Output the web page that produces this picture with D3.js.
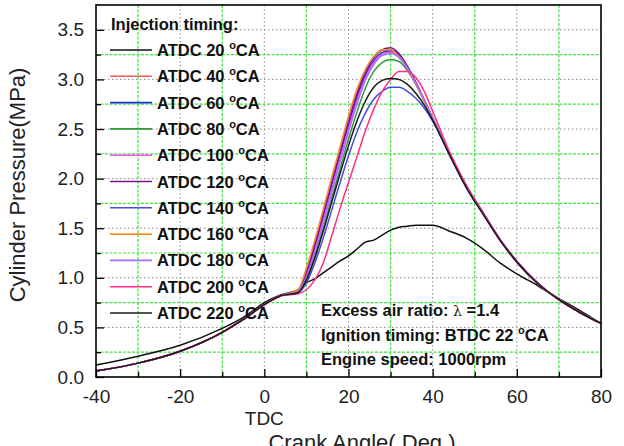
<!DOCTYPE html>
<html lang="en">
<head>
  <meta charset="UTF-8">
  <title>Cylinder pressure vs crank angle</title>
  <style>
    body { margin: 0; background: #fff; }
    svg { font-family: "Liberation Sans", Arial, sans-serif; }
    .tick-label { font-size: 19px; fill: #222; }
    .axis-title { font-size: 22px; fill: #222; }
    .note { font-size: 16.5px; font-weight: bold; fill: #111; }
  </style>
</head>
<body>
  <div id="chart"></div>
  <script src="https://d3js.org/d3.v7.min.js"></script>
  <script>
    const width = 624, height = 446;

    // crank angle (deg) shared by every series
    const angles = [-40, -30, -20, -10, -5, 0, 4, 8, 10, 12, 14, 16, 18, 20, 22, 24, 26, 28, 30,
                    32, 34, 36, 38, 40, 44, 48, 52, 56, 60, 65, 70, 75, 80];

    // cylinder pressure (MPa), one array per injection timing
    const p20  = [0.12, 0.21, 0.32, 0.49, 0.60, 0.75, 0.83, 0.88, 0.95, 0.99, 1.05, 1.11, 1.17, 1.22, 1.29, 1.36, 1.38, 1.43, 1.48,
                  1.51, 1.52, 1.53, 1.53, 1.53, 1.47, 1.40, 1.29, 1.15, 1.04, 0.92, 0.79, 0.67, 0.54];
    const p40  = [0.06, 0.14, 0.26, 0.45, 0.58, 0.73, 0.82, 0.87, 1.07, 1.36, 1.67, 1.99, 2.30, 2.60, 2.87, 3.08, 3.22, 3.29, 3.30,
                  3.24, 3.12, 2.96, 2.79, 2.61, 2.25, 1.92, 1.65, 1.38, 1.16, 0.94, 0.78, 0.65, 0.54];
    const p60  = [0.06, 0.14, 0.26, 0.45, 0.58, 0.73, 0.82, 0.86, 1.03, 1.31, 1.61, 1.93, 2.24, 2.54, 2.82, 3.04, 3.19, 3.27, 3.29,
                  3.25, 3.13, 2.97, 2.79, 2.61, 2.25, 1.92, 1.65, 1.38, 1.16, 0.94, 0.78, 0.65, 0.54];
    const p80  = [0.06, 0.14, 0.26, 0.45, 0.58, 0.73, 0.82, 0.85, 0.99, 1.22, 1.50, 1.80, 2.10, 2.40, 2.67, 2.91, 3.08, 3.17, 3.20,
                  3.18, 3.09, 2.95, 2.78, 2.61, 2.25, 1.92, 1.65, 1.38, 1.16, 0.94, 0.78, 0.65, 0.54];
    const p100 = [0.06, 0.14, 0.26, 0.45, 0.58, 0.73, 0.82, 0.86, 1.02, 1.28, 1.58, 1.89, 2.20, 2.50, 2.78, 3.01, 3.17, 3.25, 3.27,
                  3.23, 3.12, 2.97, 2.79, 2.61, 2.25, 1.92, 1.65, 1.38, 1.16, 0.94, 0.78, 0.65, 0.54];
    const p120 = [0.06, 0.14, 0.26, 0.45, 0.58, 0.73, 0.82, 0.87, 1.05, 1.33, 1.64, 1.96, 2.27, 2.57, 2.85, 3.07, 3.22, 3.30, 3.32,
                  3.26, 3.13, 2.97, 2.79, 2.61, 2.26, 1.93, 1.66, 1.39, 1.17, 0.95, 0.78, 0.65, 0.54];
    const p140 = [0.06, 0.14, 0.26, 0.45, 0.58, 0.73, 0.82, 0.85, 0.95, 1.15, 1.40, 1.68, 1.96, 2.23, 2.47, 2.66, 2.80, 2.88, 2.92,
                  2.92, 2.88, 2.81, 2.71, 2.58, 2.24, 1.91, 1.64, 1.38, 1.16, 0.94, 0.78, 0.65, 0.54];
    const p160 = [0.06, 0.14, 0.26, 0.45, 0.58, 0.73, 0.82, 0.88, 1.10, 1.38, 1.69, 2.01, 2.32, 2.63, 2.90, 3.10, 3.23, 3.30, 3.30,
                  3.23, 3.11, 2.95, 2.78, 2.61, 2.25, 1.92, 1.65, 1.38, 1.16, 0.94, 0.78, 0.65, 0.54];
    const p180 = [0.06, 0.14, 0.26, 0.45, 0.58, 0.73, 0.82, 0.86, 1.01, 1.26, 1.55, 1.86, 2.17, 2.47, 2.75, 2.99, 3.15, 3.24, 3.26,
                  3.22, 3.11, 2.96, 2.79, 2.61, 2.25, 1.92, 1.65, 1.38, 1.16, 0.94, 0.78, 0.65, 0.54];
    const p200 = [0.06, 0.14, 0.26, 0.45, 0.58, 0.73, 0.82, 0.84, 0.88, 0.98, 1.15, 1.42, 1.70, 1.96, 2.22, 2.48, 2.70, 2.88, 3.00,
                  3.08, 3.08, 3.02, 2.88, 2.68, 2.27, 1.93, 1.65, 1.38, 1.16, 0.94, 0.78, 0.65, 0.54];
    const p220 = [0.06, 0.14, 0.26, 0.45, 0.58, 0.73, 0.82, 0.85, 0.98, 1.20, 1.47, 1.76, 2.05, 2.33, 2.58, 2.78, 2.92, 2.99, 3.01,
                  3.00, 2.95, 2.86, 2.74, 2.59, 2.24, 1.91, 1.64, 1.38, 1.16, 0.94, 0.78, 0.65, 0.54];

    const timings = [20, 40, 60, 80, 100, 120, 140, 160, 180, 200, 220];
    const pressures = [p20, p40, p60, p80, p100, p120, p140, p160, p180, p200, p220];
    const colors = ["#111111", "#ff5a5a", "#1a2fd0", "#2f9a3a", "#f050f0", "#86109a",
                    "#4a4adc", "#f39020", "#a870ff", "#ff2f86", "#1a1a1a"];

    const xTicks = [-40, -20, 0, 20, 40, 60, 80];
    const yTicks = [0.0, 0.5, 1.0, 1.5, 2.0, 2.5, 3.0, 3.5];

    const notes = ["Excess air ratio: ", "Ignition timing: BTDC 22 ", "Engine speed: 1000rpm"];

    const plot = { left: 96, right: 601, top: 5, bottom: 377 };

    const svg = d3.select("#chart").append("svg")
      .attr("width", width).attr("height", height);

    const x = d3.scaleLinear().domain([-40, 80]).range([plot.left, plot.right]);
    const y = d3.scaleLinear().domain([0, 3.75]).range([plot.bottom, plot.top]);

    const xMinor = d3.range(-30, 80, 20);
    const yMinor = d3.range(0.25, 3.75, 0.5);

    // grid: gray dotted at labelled ticks, green dashed in between
    const grid = svg.append("g");
    grid.selectAll(".gx").data(xTicks.slice(1, -1)).enter().append("line")
      .attr("x1", d => x(d)).attr("x2", d => x(d))
      .attr("y1", plot.top).attr("y2", plot.bottom)
      .attr("stroke", "#888").attr("stroke-width", 1).attr("stroke-dasharray", "1.5,2.5");
    grid.selectAll(".gy").data(yTicks.slice(1)).enter().append("line")
      .attr("x1", plot.left).attr("x2", plot.right)
      .attr("y1", d => y(d)).attr("y2", d => y(d))
      .attr("stroke", "#888").attr("stroke-width", 1).attr("stroke-dasharray", "1.5,2.5");
    grid.selectAll(".mx").data(xMinor).enter().append("line")
      .attr("x1", d => x(d)).attr("x2", d => x(d))
      .attr("y1", plot.top).attr("y2", plot.bottom)
      .attr("stroke", "#3ee03e").attr("stroke-width", 1.2).attr("stroke-dasharray", "3,1.5");
    grid.selectAll(".my").data(yMinor).enter().append("line")
      .attr("x1", plot.left).attr("x2", plot.right)
      .attr("y1", d => y(d)).attr("y2", d => y(d))
      .attr("stroke", "#3ee03e").attr("stroke-width", 1.2).attr("stroke-dasharray", "3,1.5");

    // curves
    const line = d3.line()
      .x((d, i) => x(angles[i]))
      .y(d => y(d))
      .curve(d3.curveMonotoneX);

    svg.append("g").selectAll("path").data(pressures).enter().append("path")
      .attr("d", d => line(d))
      .attr("fill", "none")
      .attr("stroke", (d, i) => colors[i])
      .attr("stroke-width", 1.5);

    // axes with inward ticks
    const xAxis = svg.append("g").attr("transform", `translate(0,${plot.bottom})`)
      .call(d3.axisBottom(x).tickValues(xTicks).tickSize(-8).tickFormat(d => String(d)));
    const yAxis = svg.append("g").attr("transform", `translate(${plot.left},0)`)
      .call(d3.axisLeft(y).tickValues(yTicks).tickSize(-8).tickFormat(d3.format(".1f")));
    svg.append("g").attr("transform", `translate(0,${plot.bottom})`)
      .call(d3.axisBottom(x).tickValues(xMinor).tickSize(-5).tickFormat(""));
    svg.append("g").attr("transform", `translate(${plot.left},0)`)
      .call(d3.axisLeft(y).tickValues(yMinor).tickSize(-5).tickFormat(""));
    svg.selectAll(".domain").remove();
    svg.selectAll(".tick line").attr("stroke", "#000").attr("stroke-width", 1.3);
    xAxis.selectAll(".tick text").attr("class", "tick-label").attr("font-family", null).attr("font-size", null)
      .attr("dy", null).attr("y", 26);
    yAxis.selectAll(".tick text").attr("class", "tick-label").attr("font-family", null).attr("font-size", null)
      .attr("x", -12);

    // frame
    svg.append("rect")
      .attr("x", plot.left).attr("y", plot.top)
      .attr("width", plot.right - plot.left).attr("height", plot.bottom - plot.top)
      .attr("fill", "none").attr("stroke", "#000").attr("stroke-width", 1.6);

    // axis titles
    svg.append("text").attr("class", "tick-label")
      .attr("x", x(0)).attr("y", 425).attr("text-anchor", "middle").text("TDC");
    svg.append("text").attr("class", "axis-title")
      .attr("x", 362).attr("y", 450).attr("text-anchor", "middle").text("Crank Angle( Deg.)");
    svg.append("text").attr("class", "axis-title")
      .attr("transform", "translate(17,185) rotate(-90)")
      .attr("text-anchor", "middle").attr("dy", "0.35em").text("Cylinder Pressure(MPa)");

    // legend
    const legend = svg.append("g");
    legend.append("text").attr("class", "note").attr("x", 111).attr("y", 30).text("Injection timing:");
    const rows = legend.selectAll(".row").data(timings).enter().append("g")
      .attr("transform", (d, i) => `translate(0,${50 + i * 26.3})`);
    rows.append("line")
      .attr("x1", 110).attr("x2", 152).attr("y1", 0).attr("y2", 0)
      .attr("stroke", (d, i) => colors[i]).attr("stroke-width", 1.6);
    const lt = rows.append("text").attr("class", "note").attr("x", 157).attr("y", 6);
    lt.append("tspan").text(d => `ATDC ${d} `);
    lt.append("tspan").attr("dy", -7).attr("font-size", 11).text("o");
    lt.append("tspan").attr("dy", 7).text("CA");

    // operating conditions
    const n1 = svg.append("text").attr("class", "note").attr("x", 321).attr("y", 316);
    n1.append("tspan").text(notes[0]);
    n1.append("tspan").attr("font-weight", "normal").attr("font-family", "DejaVu Serif").attr("font-size", 14).text("λ");
    n1.append("tspan").text(" =1.4");
    const n2 = svg.append("text").attr("class", "note").attr("x", 321).attr("y", 341);
    n2.append("tspan").text(notes[1]);
    n2.append("tspan").attr("dy", -7).attr("font-size", 11).text("o");
    n2.append("tspan").attr("dy", 7).text("CA");
    svg.append("text").attr("class", "note").attr("x", 321).attr("y", 365).text(notes[2]);
  </script>
</body>
</html>
